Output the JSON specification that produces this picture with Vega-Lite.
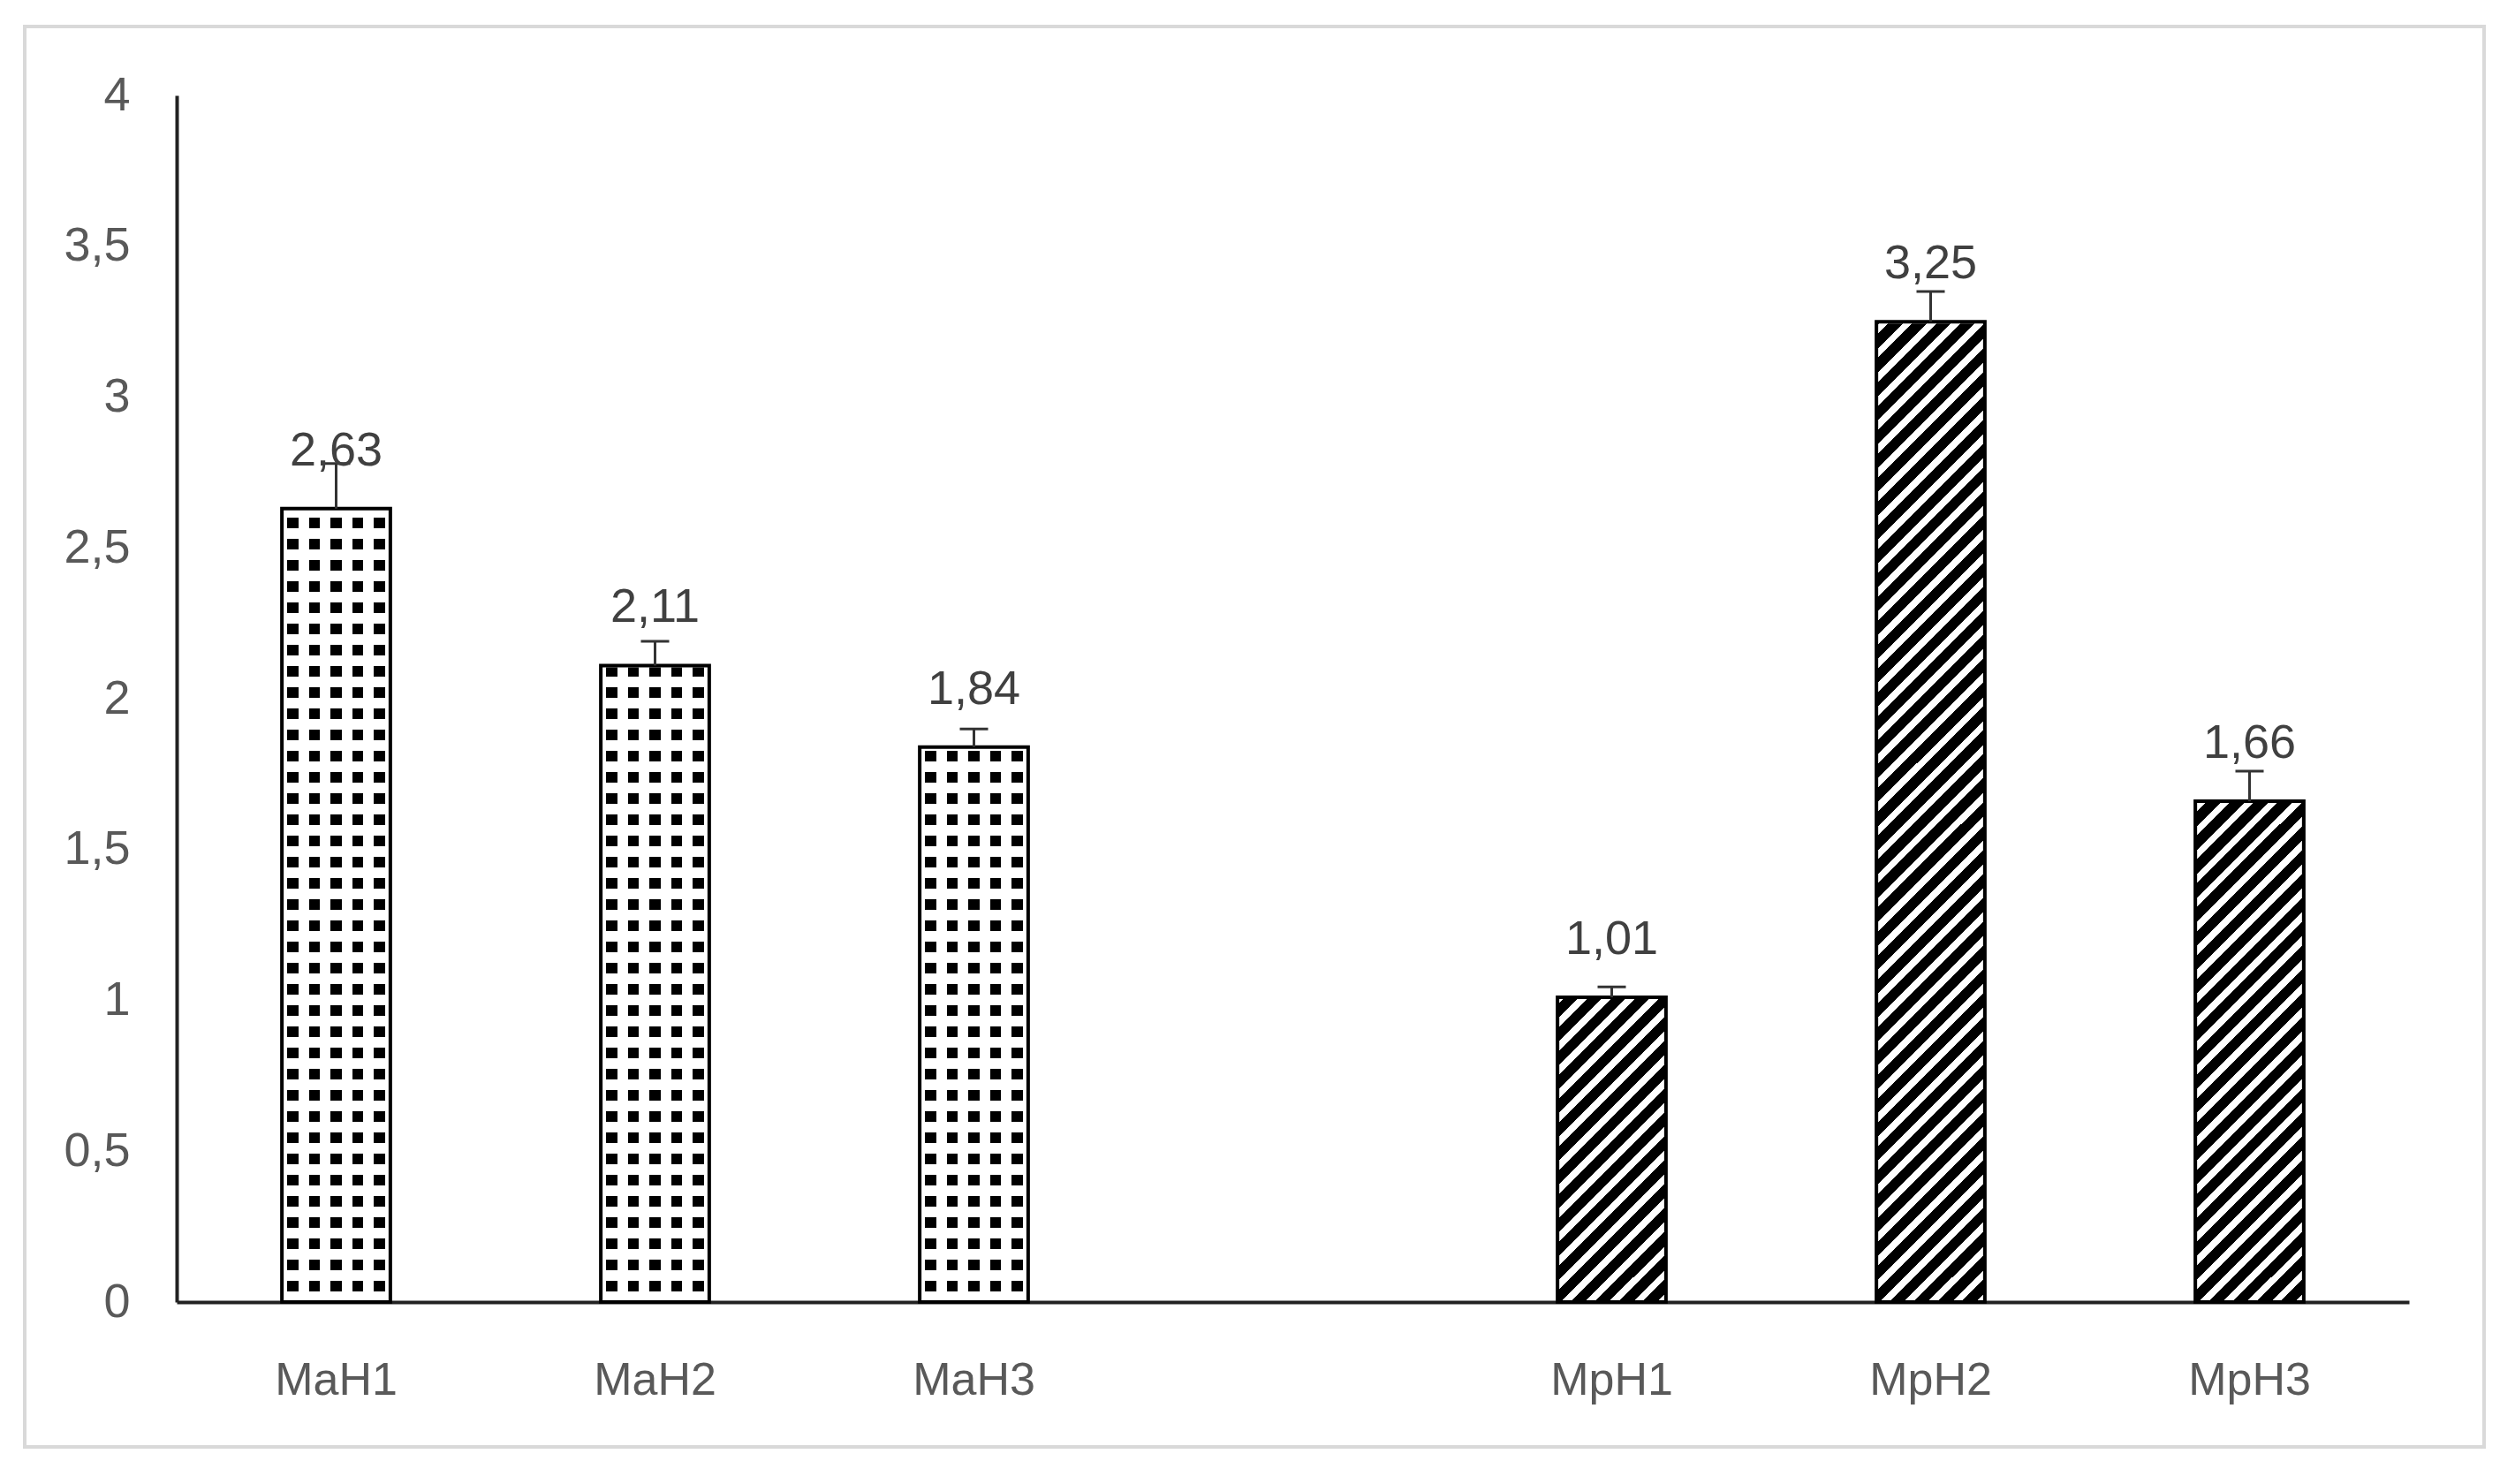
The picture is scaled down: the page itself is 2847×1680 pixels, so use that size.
{
  "$schema": "https://vega.github.io/schema/vega-lite/v6.json",
  "width": 2784,
  "height": 1608,
  "autosize": "none",
  "padding": {"left": 28, "top": 30, "right": 35, "bottom": 42},
  "background": "white",
  "config": {
    "view": {"stroke": "#d9d9d9", "strokeWidth": 4},
    "font": "Liberation Sans",
    "axisX": {"labelFontSize": 52, "labelColor": "#595959", "labelFont": "Liberation Sans", "ticks": false, "tickSize": 0, "domainColor": "#222222", "domainWidth": 4, "labelPadding": 88, "labelBaseline": "middle", "offset": -164, "labelAngle": 0, "grid": false}
  },
  "resolve": {"axis": {"y": "independent"}},
  "data": {
    "values": [
      {"c": "MaH1", "g": "a", "v": 2.63, "hi": 2.78, "lab": "2,63"},
      {"c": "MaH2", "g": "a", "v": 2.11, "hi": 2.19, "lab": "2,11"},
      {"c": "MaH3", "g": "a", "v": 1.84, "hi": 1.9, "lab": "1,84"},
      {"c": "MpH1", "g": "p", "v": 1.01, "hi": 1.045, "lab": "1,01"},
      {"c": "MpH2", "g": "p", "v": 3.25, "hi": 3.35, "lab": "3,25"},
      {"c": "MpH3", "g": "p", "v": 1.66, "hi": 1.76, "lab": "1,66"}
    ]
  },
  "encoding": {
    "x": {
      "field": "c", "type": "nominal", "title": null,
      "scale": {"domain": ["MaH1", "MaH2", "MaH3", " ", "MpH1", "MpH2", "MpH3"], "range": [172, 2699], "paddingInner": 0.66, "paddingOuter": 0.33}
    }
  },
  "layer": [
    {
      "transform": [{"filter": "datum.g === 'a'"}],
      "mark": {"type": "bar", "fill": {"gradient": "linear", "x1": 0, "y1": 0, "x2": 0, "y2": 1, "stops": [
        {"offset": 0, "color": "#000"}, {"offset": 0.0125, "color": "#000"}, {"offset": 0.0125, "color": "#fff"}, {"offset": 0.025, "color": "#fff"},
        {"offset": 0.025, "color": "#000"}, {"offset": 0.0375, "color": "#000"}, {"offset": 0.0375, "color": "#fff"}, {"offset": 0.05, "color": "#fff"},
        {"offset": 0.05, "color": "#000"}, {"offset": 0.0625, "color": "#000"}, {"offset": 0.0625, "color": "#fff"}, {"offset": 0.075, "color": "#fff"},
        {"offset": 0.075, "color": "#000"}, {"offset": 0.0875, "color": "#000"}, {"offset": 0.0875, "color": "#fff"}, {"offset": 0.1, "color": "#fff"},
        {"offset": 0.1, "color": "#000"}, {"offset": 0.1125, "color": "#000"}, {"offset": 0.1125, "color": "#fff"}, {"offset": 0.125, "color": "#fff"},
        {"offset": 0.125, "color": "#000"}, {"offset": 0.1375, "color": "#000"}, {"offset": 0.1375, "color": "#fff"}, {"offset": 0.15, "color": "#fff"},
        {"offset": 0.15, "color": "#000"}, {"offset": 0.1625, "color": "#000"}, {"offset": 0.1625, "color": "#fff"}, {"offset": 0.175, "color": "#fff"},
        {"offset": 0.175, "color": "#000"}, {"offset": 0.1875, "color": "#000"}, {"offset": 0.1875, "color": "#fff"}, {"offset": 0.2, "color": "#fff"},
        {"offset": 0.2, "color": "#000"}, {"offset": 0.2125, "color": "#000"}, {"offset": 0.2125, "color": "#fff"}, {"offset": 0.225, "color": "#fff"},
        {"offset": 0.225, "color": "#000"}, {"offset": 0.2375, "color": "#000"}, {"offset": 0.2375, "color": "#fff"}, {"offset": 0.25, "color": "#fff"},
        {"offset": 0.25, "color": "#000"}, {"offset": 0.2625, "color": "#000"}, {"offset": 0.2625, "color": "#fff"}, {"offset": 0.275, "color": "#fff"},
        {"offset": 0.275, "color": "#000"}, {"offset": 0.2875, "color": "#000"}, {"offset": 0.2875, "color": "#fff"}, {"offset": 0.3, "color": "#fff"},
        {"offset": 0.3, "color": "#000"}, {"offset": 0.3125, "color": "#000"}, {"offset": 0.3125, "color": "#fff"}, {"offset": 0.325, "color": "#fff"},
        {"offset": 0.325, "color": "#000"}, {"offset": 0.3375, "color": "#000"}, {"offset": 0.3375, "color": "#fff"}, {"offset": 0.35, "color": "#fff"},
        {"offset": 0.35, "color": "#000"}, {"offset": 0.3625, "color": "#000"}, {"offset": 0.3625, "color": "#fff"}, {"offset": 0.375, "color": "#fff"},
        {"offset": 0.375, "color": "#000"}, {"offset": 0.3875, "color": "#000"}, {"offset": 0.3875, "color": "#fff"}, {"offset": 0.4, "color": "#fff"},
        {"offset": 0.4, "color": "#000"}, {"offset": 0.4125, "color": "#000"}, {"offset": 0.4125, "color": "#fff"}, {"offset": 0.425, "color": "#fff"},
        {"offset": 0.425, "color": "#000"}, {"offset": 0.4375, "color": "#000"}, {"offset": 0.4375, "color": "#fff"}, {"offset": 0.45, "color": "#fff"},
        {"offset": 0.45, "color": "#000"}, {"offset": 0.4625, "color": "#000"}, {"offset": 0.4625, "color": "#fff"}, {"offset": 0.475, "color": "#fff"},
        {"offset": 0.475, "color": "#000"}, {"offset": 0.4875, "color": "#000"}, {"offset": 0.4875, "color": "#fff"}, {"offset": 0.5, "color": "#fff"},
        {"offset": 0.5, "color": "#000"}, {"offset": 0.5125, "color": "#000"}, {"offset": 0.5125, "color": "#fff"}, {"offset": 0.525, "color": "#fff"},
        {"offset": 0.525, "color": "#000"}, {"offset": 0.5375, "color": "#000"}, {"offset": 0.5375, "color": "#fff"}, {"offset": 0.55, "color": "#fff"},
        {"offset": 0.55, "color": "#000"}, {"offset": 0.5625, "color": "#000"}, {"offset": 0.5625, "color": "#fff"}, {"offset": 0.575, "color": "#fff"},
        {"offset": 0.575, "color": "#000"}, {"offset": 0.5875, "color": "#000"}, {"offset": 0.5875, "color": "#fff"}, {"offset": 0.6, "color": "#fff"},
        {"offset": 0.6, "color": "#000"}, {"offset": 0.6125, "color": "#000"}, {"offset": 0.6125, "color": "#fff"}, {"offset": 0.625, "color": "#fff"},
        {"offset": 0.625, "color": "#000"}, {"offset": 0.6375, "color": "#000"}, {"offset": 0.6375, "color": "#fff"}, {"offset": 0.65, "color": "#fff"},
        {"offset": 0.65, "color": "#000"}, {"offset": 0.6625, "color": "#000"}, {"offset": 0.6625, "color": "#fff"}, {"offset": 0.675, "color": "#fff"},
        {"offset": 0.675, "color": "#000"}, {"offset": 0.6875, "color": "#000"}, {"offset": 0.6875, "color": "#fff"}, {"offset": 0.7, "color": "#fff"},
        {"offset": 0.7, "color": "#000"}, {"offset": 0.7125, "color": "#000"}, {"offset": 0.7125, "color": "#fff"}, {"offset": 0.725, "color": "#fff"},
        {"offset": 0.725, "color": "#000"}, {"offset": 0.7375, "color": "#000"}, {"offset": 0.7375, "color": "#fff"}, {"offset": 0.75, "color": "#fff"},
        {"offset": 0.75, "color": "#000"}, {"offset": 0.7625, "color": "#000"}, {"offset": 0.7625, "color": "#fff"}, {"offset": 0.775, "color": "#fff"},
        {"offset": 0.775, "color": "#000"}, {"offset": 0.7875, "color": "#000"}, {"offset": 0.7875, "color": "#fff"}, {"offset": 0.8, "color": "#fff"},
        {"offset": 0.8, "color": "#000"}, {"offset": 0.8125, "color": "#000"}, {"offset": 0.8125, "color": "#fff"}, {"offset": 0.825, "color": "#fff"},
        {"offset": 0.825, "color": "#000"}, {"offset": 0.8375, "color": "#000"}, {"offset": 0.8375, "color": "#fff"}, {"offset": 0.85, "color": "#fff"},
        {"offset": 0.85, "color": "#000"}, {"offset": 0.8625, "color": "#000"}, {"offset": 0.8625, "color": "#fff"}, {"offset": 0.875, "color": "#fff"},
        {"offset": 0.875, "color": "#000"}, {"offset": 0.8875, "color": "#000"}, {"offset": 0.8875, "color": "#fff"}, {"offset": 0.9, "color": "#fff"},
        {"offset": 0.9, "color": "#000"}, {"offset": 0.9125, "color": "#000"}, {"offset": 0.9125, "color": "#fff"}, {"offset": 0.925, "color": "#fff"},
        {"offset": 0.925, "color": "#000"}, {"offset": 0.9375, "color": "#000"}, {"offset": 0.9375, "color": "#fff"}, {"offset": 0.95, "color": "#fff"},
        {"offset": 0.95, "color": "#000"}, {"offset": 0.9625, "color": "#000"}, {"offset": 0.9625, "color": "#fff"}, {"offset": 0.975, "color": "#fff"},
        {"offset": 0.975, "color": "#000"}, {"offset": 0.9875, "color": "#000"}, {"offset": 0.9875, "color": "#fff"}, {"offset": 1, "color": "#fff"}
      ]}},
      "encoding": {
        "y": {"datum": 2.81, "type": "quantitative", "title": null, "scale": {"domain": [0, 4], "range": [1444, 78]}, "axis": null},
        "y2": {"datum": 0}
      }
    },
    {
      "transform": [{"filter": "datum.g === 'a'"}],
      "mark": {"type": "bar", "fill": {"gradient": "linear", "x1": 0, "y1": 0, "x2": 1, "y2": 0, "stops": [
        {"offset": 0, "color": "#fff"}, {"offset": 0.05, "color": "#fff"}, {"offset": 0.05, "color": "rgba(255,255,255,0)"}, {"offset": 0.15, "color": "rgba(255,255,255,0)"},
        {"offset": 0.15, "color": "#fff"}, {"offset": 0.25, "color": "#fff"}, {"offset": 0.25, "color": "rgba(255,255,255,0)"}, {"offset": 0.35, "color": "rgba(255,255,255,0)"},
        {"offset": 0.35, "color": "#fff"}, {"offset": 0.45, "color": "#fff"}, {"offset": 0.45, "color": "rgba(255,255,255,0)"}, {"offset": 0.55, "color": "rgba(255,255,255,0)"},
        {"offset": 0.55, "color": "#fff"}, {"offset": 0.65, "color": "#fff"}, {"offset": 0.65, "color": "rgba(255,255,255,0)"}, {"offset": 0.75, "color": "rgba(255,255,255,0)"},
        {"offset": 0.75, "color": "#fff"}, {"offset": 0.85, "color": "#fff"}, {"offset": 0.85, "color": "rgba(255,255,255,0)"}, {"offset": 0.95, "color": "rgba(255,255,255,0)"},
        {"offset": 0.95, "color": "#fff"}, {"offset": 1, "color": "#fff"}
      ]}},
      "encoding": {
        "y": {"datum": 2.81, "type": "quantitative", "title": null, "scale": {"domain": [0, 4], "range": [1444, 78]}, "axis": null},
        "y2": {"datum": 0}
      }
    },
    {
      "transform": [{"filter": "datum.g === 'p'"}],
      "mark": {"type": "bar", "fill": {"gradient": "linear", "x1": 0, "y1": 0, "x2": 0.1087, "y2": 1.089, "stops": [
        {"offset": 0, "color": "#000"}, {"offset": 0.012, "color": "#000"}, {"offset": 0.012, "color": "#fff"}, {"offset": 0.02, "color": "#fff"},
        {"offset": 0.02, "color": "#000"}, {"offset": 0.032, "color": "#000"}, {"offset": 0.032, "color": "#fff"}, {"offset": 0.04, "color": "#fff"},
        {"offset": 0.04, "color": "#000"}, {"offset": 0.052, "color": "#000"}, {"offset": 0.052, "color": "#fff"}, {"offset": 0.06, "color": "#fff"},
        {"offset": 0.06, "color": "#000"}, {"offset": 0.072, "color": "#000"}, {"offset": 0.072, "color": "#fff"}, {"offset": 0.08, "color": "#fff"},
        {"offset": 0.08, "color": "#000"}, {"offset": 0.092, "color": "#000"}, {"offset": 0.092, "color": "#fff"}, {"offset": 0.1, "color": "#fff"},
        {"offset": 0.1, "color": "#000"}, {"offset": 0.112, "color": "#000"}, {"offset": 0.112, "color": "#fff"}, {"offset": 0.12, "color": "#fff"},
        {"offset": 0.12, "color": "#000"}, {"offset": 0.132, "color": "#000"}, {"offset": 0.132, "color": "#fff"}, {"offset": 0.14, "color": "#fff"},
        {"offset": 0.14, "color": "#000"}, {"offset": 0.152, "color": "#000"}, {"offset": 0.152, "color": "#fff"}, {"offset": 0.16, "color": "#fff"},
        {"offset": 0.16, "color": "#000"}, {"offset": 0.172, "color": "#000"}, {"offset": 0.172, "color": "#fff"}, {"offset": 0.18, "color": "#fff"},
        {"offset": 0.18, "color": "#000"}, {"offset": 0.192, "color": "#000"}, {"offset": 0.192, "color": "#fff"}, {"offset": 0.2, "color": "#fff"},
        {"offset": 0.2, "color": "#000"}, {"offset": 0.212, "color": "#000"}, {"offset": 0.212, "color": "#fff"}, {"offset": 0.22, "color": "#fff"},
        {"offset": 0.22, "color": "#000"}, {"offset": 0.232, "color": "#000"}, {"offset": 0.232, "color": "#fff"}, {"offset": 0.24, "color": "#fff"},
        {"offset": 0.24, "color": "#000"}, {"offset": 0.252, "color": "#000"}, {"offset": 0.252, "color": "#fff"}, {"offset": 0.26, "color": "#fff"},
        {"offset": 0.26, "color": "#000"}, {"offset": 0.272, "color": "#000"}, {"offset": 0.272, "color": "#fff"}, {"offset": 0.28, "color": "#fff"},
        {"offset": 0.28, "color": "#000"}, {"offset": 0.292, "color": "#000"}, {"offset": 0.292, "color": "#fff"}, {"offset": 0.3, "color": "#fff"},
        {"offset": 0.3, "color": "#000"}, {"offset": 0.312, "color": "#000"}, {"offset": 0.312, "color": "#fff"}, {"offset": 0.32, "color": "#fff"},
        {"offset": 0.32, "color": "#000"}, {"offset": 0.332, "color": "#000"}, {"offset": 0.332, "color": "#fff"}, {"offset": 0.34, "color": "#fff"},
        {"offset": 0.34, "color": "#000"}, {"offset": 0.352, "color": "#000"}, {"offset": 0.352, "color": "#fff"}, {"offset": 0.36, "color": "#fff"},
        {"offset": 0.36, "color": "#000"}, {"offset": 0.372, "color": "#000"}, {"offset": 0.372, "color": "#fff"}, {"offset": 0.38, "color": "#fff"},
        {"offset": 0.38, "color": "#000"}, {"offset": 0.392, "color": "#000"}, {"offset": 0.392, "color": "#fff"}, {"offset": 0.4, "color": "#fff"},
        {"offset": 0.4, "color": "#000"}, {"offset": 0.412, "color": "#000"}, {"offset": 0.412, "color": "#fff"}, {"offset": 0.42, "color": "#fff"},
        {"offset": 0.42, "color": "#000"}, {"offset": 0.432, "color": "#000"}, {"offset": 0.432, "color": "#fff"}, {"offset": 0.44, "color": "#fff"},
        {"offset": 0.44, "color": "#000"}, {"offset": 0.452, "color": "#000"}, {"offset": 0.452, "color": "#fff"}, {"offset": 0.46, "color": "#fff"},
        {"offset": 0.46, "color": "#000"}, {"offset": 0.472, "color": "#000"}, {"offset": 0.472, "color": "#fff"}, {"offset": 0.48, "color": "#fff"},
        {"offset": 0.48, "color": "#000"}, {"offset": 0.492, "color": "#000"}, {"offset": 0.492, "color": "#fff"}, {"offset": 0.5, "color": "#fff"},
        {"offset": 0.5, "color": "#000"}, {"offset": 0.512, "color": "#000"}, {"offset": 0.512, "color": "#fff"}, {"offset": 0.52, "color": "#fff"},
        {"offset": 0.52, "color": "#000"}, {"offset": 0.532, "color": "#000"}, {"offset": 0.532, "color": "#fff"}, {"offset": 0.54, "color": "#fff"},
        {"offset": 0.54, "color": "#000"}, {"offset": 0.552, "color": "#000"}, {"offset": 0.552, "color": "#fff"}, {"offset": 0.56, "color": "#fff"},
        {"offset": 0.56, "color": "#000"}, {"offset": 0.572, "color": "#000"}, {"offset": 0.572, "color": "#fff"}, {"offset": 0.58, "color": "#fff"},
        {"offset": 0.58, "color": "#000"}, {"offset": 0.592, "color": "#000"}, {"offset": 0.592, "color": "#fff"}, {"offset": 0.6, "color": "#fff"},
        {"offset": 0.6, "color": "#000"}, {"offset": 0.612, "color": "#000"}, {"offset": 0.612, "color": "#fff"}, {"offset": 0.62, "color": "#fff"},
        {"offset": 0.62, "color": "#000"}, {"offset": 0.632, "color": "#000"}, {"offset": 0.632, "color": "#fff"}, {"offset": 0.64, "color": "#fff"},
        {"offset": 0.64, "color": "#000"}, {"offset": 0.652, "color": "#000"}, {"offset": 0.652, "color": "#fff"}, {"offset": 0.66, "color": "#fff"},
        {"offset": 0.66, "color": "#000"}, {"offset": 0.672, "color": "#000"}, {"offset": 0.672, "color": "#fff"}, {"offset": 0.68, "color": "#fff"},
        {"offset": 0.68, "color": "#000"}, {"offset": 0.692, "color": "#000"}, {"offset": 0.692, "color": "#fff"}, {"offset": 0.7, "color": "#fff"},
        {"offset": 0.7, "color": "#000"}, {"offset": 0.712, "color": "#000"}, {"offset": 0.712, "color": "#fff"}, {"offset": 0.72, "color": "#fff"},
        {"offset": 0.72, "color": "#000"}, {"offset": 0.732, "color": "#000"}, {"offset": 0.732, "color": "#fff"}, {"offset": 0.74, "color": "#fff"},
        {"offset": 0.74, "color": "#000"}, {"offset": 0.752, "color": "#000"}, {"offset": 0.752, "color": "#fff"}, {"offset": 0.76, "color": "#fff"},
        {"offset": 0.76, "color": "#000"}, {"offset": 0.772, "color": "#000"}, {"offset": 0.772, "color": "#fff"}, {"offset": 0.78, "color": "#fff"},
        {"offset": 0.78, "color": "#000"}, {"offset": 0.792, "color": "#000"}, {"offset": 0.792, "color": "#fff"}, {"offset": 0.8, "color": "#fff"},
        {"offset": 0.8, "color": "#000"}, {"offset": 0.812, "color": "#000"}, {"offset": 0.812, "color": "#fff"}, {"offset": 0.82, "color": "#fff"},
        {"offset": 0.82, "color": "#000"}, {"offset": 0.832, "color": "#000"}, {"offset": 0.832, "color": "#fff"}, {"offset": 0.84, "color": "#fff"},
        {"offset": 0.84, "color": "#000"}, {"offset": 0.852, "color": "#000"}, {"offset": 0.852, "color": "#fff"}, {"offset": 0.86, "color": "#fff"},
        {"offset": 0.86, "color": "#000"}, {"offset": 0.872, "color": "#000"}, {"offset": 0.872, "color": "#fff"}, {"offset": 0.88, "color": "#fff"},
        {"offset": 0.88, "color": "#000"}, {"offset": 0.892, "color": "#000"}, {"offset": 0.892, "color": "#fff"}, {"offset": 0.9, "color": "#fff"},
        {"offset": 0.9, "color": "#000"}, {"offset": 0.912, "color": "#000"}, {"offset": 0.912, "color": "#fff"}, {"offset": 0.92, "color": "#fff"},
        {"offset": 0.92, "color": "#000"}, {"offset": 0.932, "color": "#000"}, {"offset": 0.932, "color": "#fff"}, {"offset": 0.94, "color": "#fff"},
        {"offset": 0.94, "color": "#000"}, {"offset": 0.952, "color": "#000"}, {"offset": 0.952, "color": "#fff"}, {"offset": 0.96, "color": "#fff"},
        {"offset": 0.96, "color": "#000"}, {"offset": 0.972, "color": "#000"}, {"offset": 0.972, "color": "#fff"}, {"offset": 0.98, "color": "#fff"},
        {"offset": 0.98, "color": "#000"}, {"offset": 0.992, "color": "#000"}, {"offset": 0.992, "color": "#fff"}, {"offset": 1, "color": "#fff"}
      ]}},
      "encoding": {
        "y": {"datum": 3.6, "type": "quantitative", "title": null, "scale": {"domain": [0, 4], "range": [1444, 78]}, "axis": null},
        "y2": {"datum": 0}
      }
    },
    {
      "mark": {"type": "bar", "fill": "white", "stroke": "white", "strokeWidth": 4},
      "encoding": {
        "y": {"field": "v", "type": "quantitative", "title": null, "scale": {"domain": [0, 4], "range": [1444, 78]}, "axis": null},
        "y2": {"datum": 4}
      }
    },
    {
      "mark": {"type": "bar", "fill": "white", "fillOpacity": 0, "stroke": "#000", "strokeWidth": 4},
      "encoding": {
        "y": {"field": "v", "type": "quantitative", "title": null, "scale": {"domain": [0, 4], "range": [1444, 78]},
          "axis": {"orient": "left", "offset": -172, "values": [0, 0.5, 1, 1.5, 2, 2.5, 3, 3.5, 4], "labelExpr": "replace(toString(datum.value), '.', ',')", "title": null, "labelFontSize": 54, "labelColor": "#595959", "labelFont": "Liberation Sans", "ticks": false, "tickSize": 0, "domain": true, "domainColor": "#222222", "domainWidth": 4, "labelPadding": 53, "grid": false}}
      }
    },
    {
      "mark": {"type": "rule", "stroke": "#333333", "strokeWidth": 3},
      "encoding": {
        "y": {"field": "v", "type": "quantitative", "title": null, "scale": {"domain": [0, 4], "range": [1444, 78]}, "axis": null},
        "y2": {"field": "hi"}
      }
    },
    {
      "mark": {"type": "tick", "color": "#333333", "size": 32, "thickness": 3, "opacity": 1},
      "encoding": {
        "y": {"field": "hi", "type": "quantitative", "title": null, "scale": {"domain": [0, 4], "range": [1444, 78]}, "axis": null}
      }
    },
    {
      "mark": {"type": "text", "fontSize": 54, "font": "Liberation Sans", "fill": "#404040", "baseline": "middle", "align": "center", "dy": -65},
      "encoding": {
        "y": {"field": "v", "type": "quantitative", "title": null, "scale": {"domain": [0, 4], "range": [1444, 78]}, "axis": null},
        "text": {"field": "lab"}
      }
    }
  ]
}
